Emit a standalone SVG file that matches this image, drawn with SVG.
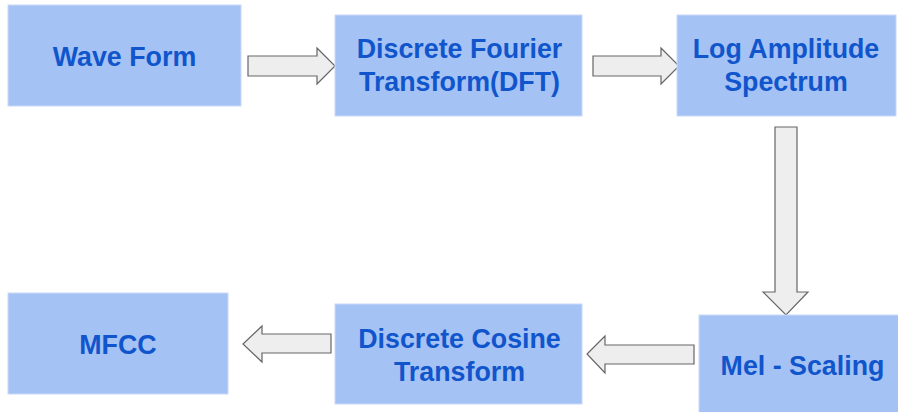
<svg xmlns="http://www.w3.org/2000/svg" width="898" height="412" viewBox="0 0 898 412">
<style>
.box{fill:#a4c2f4;stroke:#c9daf8;stroke-width:1}
.lbl{font-family:"Liberation Sans",Arial,sans-serif;font-weight:bold;font-size:26.8px;fill:#1155cc;text-anchor:middle}
.arr{fill:#eeeeee;stroke:#666666;stroke-width:1.2;stroke-linejoin:miter}
</style>
<rect width="898" height="412" fill="#ffffff"/>
<g id="connectors">
<polygon class="arr" points="248,56 317,56 317,48 335,66 317,84 317,76 248,76"/>
<polygon class="arr" points="593,56 661,56 661,48 679,66 661,84 661,76 593,76"/>
<polygon class="arr" points="775,127 797,127 797,292 808,292 786,315 763,292 775,292"/>
<polygon class="arr" points="694,345 694,364 605,364 605,373 587,354 605,336 605,345"/>
<polygon class="arr" points="331,334 331,353 262,353 262,362 243,344 262,326 262,334"/>
</g>
<g id="wave-form">
<rect class="box" x="8" y="5" width="233" height="101"/>
<text class="lbl" x="124.5" y="65.5">Wave Form</text>
</g>
<g id="dft">
<rect class="box" x="335" y="15" width="247" height="101"/>
<text class="lbl" x="459.5" y="58">Discrete Fourier</text>
<text class="lbl" x="459.5" y="91">Transform(DFT)</text>
</g>
<g id="log-amplitude">
<rect class="box" x="677" y="15" width="219" height="101"/>
<text class="lbl" x="786" y="58">Log Amplitude</text>
<text class="lbl" x="786" y="91">Spectrum</text>
</g>
<g id="mel-scaling">
<rect class="box" x="699" y="315" width="207" height="101"/>
<text class="lbl" x="802.5" y="374.5">Mel - Scaling</text>
</g>
<g id="dct">
<rect class="box" x="335" y="304" width="247" height="100"/>
<text class="lbl" x="459.5" y="348">Discrete Cosine</text>
<text class="lbl" x="459.5" y="381">Transform</text>
</g>
<g id="mfcc">
<rect class="box" x="8" y="293" width="220" height="101"/>
<text class="lbl" x="118" y="353.5">MFCC</text>
</g>
</svg>
